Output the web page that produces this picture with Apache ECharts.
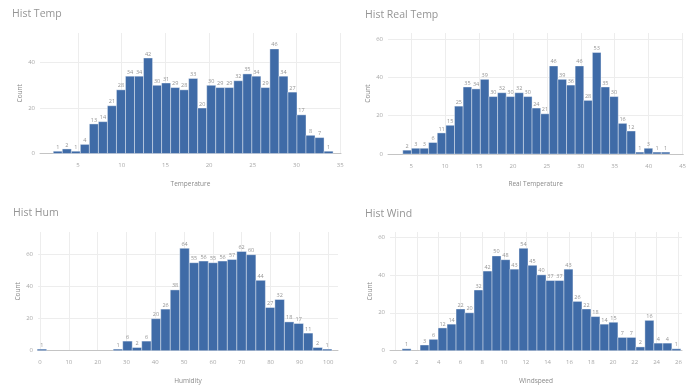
<!DOCTYPE html>
<html>
<head>
<meta charset="utf-8">
<script src="https://cdn.jsdelivr.net/npm/echarts@6/dist/echarts.min.js"></script>
<style>
  html, body { margin: 0; padding: 0; background: #ffffff; }
  #chart { width: 689px; height: 388px; }
</style>
</head>
<body>
<div id="chart"></div>
<script>
// Daily counts per bin for four weather variables
const tempStart = 2.17, tempWidth = 1.033;
const tempCounts = [1, 2, 1, 4, 13, 14, 21, 28, 34, 34, 42, 30, 31, 29, 28, 33, 20, 30, 29, 29, 32, 35, 34, 29, 46, 34, 27, 17, 8, 7, 1];

const realStart = 3.77, realWidth = 1.27;
const realCounts = [2, 3, 3, 6, 11, 15, 25, 35, 34, 39, 30, 32, 30, 32, 30, 24, 21, 46, 39, 36, 46, 28, 53, 35, 30, 16, 12, 1, 3, 1, 1];

const humStart = -1.0, humWidth = 3.3;
const humCounts = [1, 0, 0, 0, 0, 0, 0, 0, 1, 6, 2, 6, 20, 26, 38, 64, 55, 56, 55, 56, 57, 62, 60, 44, 27, 32, 18, 17, 11, 2, 1];

const windStart = 0.65, windWidth = 0.825;
const windCounts = [1, 0, 3, 6, 12, 14, 22, 20, 32, 42, 50, 48, 43, 54, 45, 40, 37, 37, 43, 26, 22, 18, 14, 15, 7, 7, 2, 16, 4, 4, 1];

// Tick labels
const tempTicks = [5, 10, 15, 20, 25, 30, 35];
const realTicks = [5, 10, 15, 20, 25, 30, 35, 40, 45];
const humTicks = [0, 10, 20, 30, 40, 50, 60, 70, 80, 90, 100];
const windTicks = [0, 2, 4, 6, 8, 10, 12, 14, 16, 18, 20, 22, 24, 26];
const countTicksTemp = [0, 20, 40];
const countTicks = [0, 20, 40, 60];

const titles = ['Hist Temp', 'Hist Real Temp', 'Hist Hum', 'Hist Wind'];
const xNames = ['Temperature', 'Real Temperature', 'Humidity', 'Windspeed'];

const FONT = '"Open Sans", "Liberation Sans", sans-serif';
const BAR = '#3f6ba7';

function bins(start, width, counts) {
  return counts.map((c, i) => [start + i * width, start + (i + 1) * width, c]);
}

function renderBin(params, api) {
  const c = api.value(2);
  if (!c) return { type: 'group', children: [] };
  const p0 = api.coord([api.value(0), 0]);
  const p1 = api.coord([api.value(1), c]);
  return {
    type: 'group',
    children: [
      {
        type: 'rect',
        shape: { x: p0[0], y: p1[1], width: p1[0] - p0[0], height: p0[1] - p1[1] },
        style: { fill: BAR, stroke: 'rgba(255,255,255,0.65)', lineWidth: 0.6 }
      },
      {
        type: 'text',
        style: {
          text: String(c),
          x: (p0[0] + p1[0]) / 2,
          y: p1[1] - 1,
          align: 'center',
          verticalAlign: 'bottom',
          fill: '#959595',
          font: '5.5px ' + FONT
        }
      }
    ]
  };
}

const grids = [
  { left: 40, right: 348, top: 33, bottom: 234.5 },
  { left: 388, right: -5, top: 33, bottom: 234 },
  { left: 38, right: 351, top: 232, bottom: 37.3 },
  { left: 390, right: 7, top: 232, bottom: 37.3 }
];

const xRanges = [[0.65, 35.1], [1.59, 45.1], [-0.7, 103.4], [-0.46, 26.33]];
const xTickSets = [tempTicks, realTicks, humTicks, windTicks];
const yMaxes = [53, 63.2, 74.2, 62.6];
const yTickSets = [countTicksTemp, countTicks, countTicks, countTicks];
const seriesData = [
  bins(tempStart, tempWidth, tempCounts),
  bins(realStart, realWidth, realCounts),
  bins(humStart, humWidth, humCounts),
  bins(windStart, windWidth, windCounts)
];
const titlePos = [[12, 9], [365, 10], [13, 208], [365, 209]];

const option = {
  animation: false,
  backgroundColor: '#ffffff',
  title: titles.map((t, i) => ({
    text: t,
    left: titlePos[i][0],
    top: titlePos[i][1],
    padding: 0,
    textStyle: { fontFamily: FONT, fontSize: 10.5, fontWeight: 'normal', color: '#959595' }
  })),
  grid: grids,
  xAxis: grids.map((g, i) => ({
    type: 'value',
    gridIndex: i,
    min: xRanges[i][0],
    max: xRanges[i][1],
    name: xNames[i],
    nameLocation: 'middle',
    nameGap: 27,
    nameTextStyle: { fontFamily: FONT, fontSize: 6.5, color: '#8a8a8a' },
    axisLine: { show: true, lineStyle: { color: '#c4c4c4', width: 1 } },
    axisTick: { show: false, customValues: xTickSets[i] },
    axisLabel: { customValues: xTickSets[i], fontFamily: FONT, fontSize: 6, color: '#a8a8a8', margin: 9 },
    splitLine: { show: true, lineStyle: { color: '#ededed', width: 1 } }
  })),
  yAxis: grids.map((g, i) => ({
    type: 'value',
    gridIndex: i,
    min: 0,
    max: yMaxes[i],
    name: 'Count',
    nameLocation: 'middle',
    nameRotate: 90,
    nameGap: 16,
    nameTextStyle: { fontFamily: FONT, fontSize: 6.5, color: '#8a8a8a' },
    axisLine: { show: false },
    axisTick: { show: false, customValues: yTickSets[i] },
    axisLabel: { customValues: yTickSets[i], fontFamily: FONT, fontSize: 6, color: '#a8a8a8', margin: 5 },
    splitLine: { show: true, lineStyle: { color: '#ededed', width: 1 } }
  })),
  series: seriesData.map((d, i) => ({
    type: 'custom',
    xAxisIndex: i,
    yAxisIndex: i,
    renderItem: renderBin,
    encode: { x: [0, 1], y: 2 },
    clip: false,
    data: d
  }))
};

const chart = echarts.init(document.getElementById('chart'), null, { renderer: 'canvas' });
chart.setOption(option);
</script>
</body>
</html>
